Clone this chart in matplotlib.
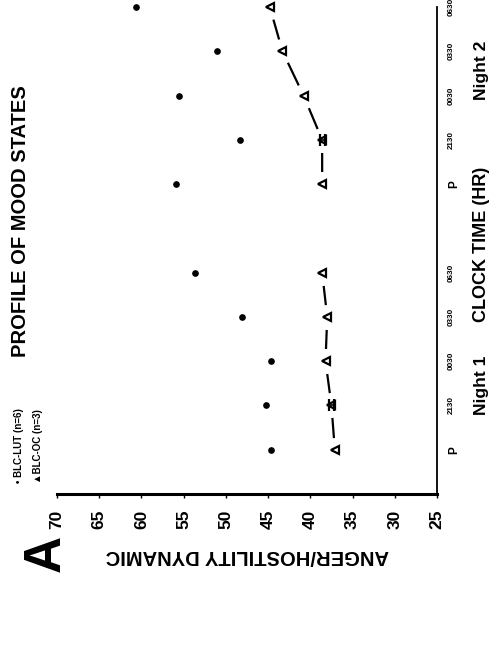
import numpy as np
import matplotlib
matplotlib.use("Agg")
import matplotlib.pyplot as plt

plt.rcParams["font.family"] = ["Liberation Sans", "DejaVu Sans"]
plt.rcParams["font.weight"] = "bold"

# clock times along the (rotated) time axis, empty slot between the two nights
time_labels = ["P", "2130", "0030", "0330", "0630", "",
               "P", "2130", "0030", "0330", "0630"]
# BLC-LUT (n=6) means, dots
lut_vals = [44.6, 45.2, 44.6, 48.1, 53.7, np.nan, 55.9, 48.3, 55.6, 51.0, 60.7]
# BLC-OC (n=3) means, open triangles
oc_vals = [37.1, 37.5, 38.2, 38.0, 38.6, np.nan, 38.6, 38.6, 40.8, 43.3, 44.8]
# small error bars visible on a few OC points
oc_err = [0, 0.3, 0, 0, 0, 0, 0, 0.3, 0, 0, 0]
value_ticks = [70, 65, 60, 55, 50, 45, 40, 35, 30, 25]

t = np.arange(len(time_labels))
lut = np.array(lut_vals)
oc = np.array(oc_vals)
err = np.array(oc_err)

W, H = 490, 655
fig = plt.figure(figsize=(W / 100, H / 100), dpi=100)
ax = fig.add_axes([57 / W, 1 - 494 / H, 380 / W, 487 / H])

# the figure is the scanned chart turned a quarter turn: values run right-to-left,
# time runs upward
ax.plot(lut, t, "o", color="black", markersize=3.8, clip_on=False, zorder=3)
ax.plot(oc, t, "-", color="black", linewidth=1.6, zorder=2)
# white halo so the connecting line stops short of each triangle
ax.plot(oc, t, "o", color="white", markersize=17, clip_on=False, zorder=3)
ax.plot(oc, t, "<", markerfacecolor="white", markeredgecolor="black",
        markeredgewidth=1.6, markersize=6, clip_on=False, zorder=4)
sel = err > 0
ax.errorbar(oc[sel], t[sel], xerr=err[sel], fmt="none", ecolor="black",
            elinewidth=1.2, capsize=4, capthick=1.6, zorder=5)

ax.set_xlim(70, 25)
ax.set_ylim(-1, 10)

ax.spines["top"].set_visible(False)
ax.spines["left"].set_visible(False)
ax.spines["bottom"].set_linewidth(2.2)
ax.spines["right"].set_linewidth(1.3)

ax.set_xticks(value_ticks)
ax.set_xticklabels([str(v) for v in value_ticks], rotation=90,
                   fontsize=12.5, fontweight="bold")
ax.tick_params(axis="x", direction="out", length=3, width=1, pad=8)

ax.yaxis.tick_right()
ax.set_yticks(t)
ax.set_yticklabels(time_labels, rotation=90, fontsize=5.8, fontweight="bold",
                   va="center")
ax.tick_params(axis="y", length=0, pad=8)
for lab in ax.get_yticklabels():
    if lab.get_text() == "P":
        lab.set_fontsize(8.5)

# title and legend text, turned with the chart
fig.text(21 / W, 1 - 221 / H, "PROFILE OF MOOD STATES", rotation=90,
         ha="center", va="center", fontsize=14.5, fontweight="bold")
fig.text(19 / W, 1 - 483 / H, "• BLC-LUT (n=6)", rotation=90,
         ha="center", va="bottom", fontsize=7, fontweight="bold")
fig.text(38 / W, 1 - 483 / H, "▲BLC-OC (n=3)", rotation=90,
         ha="center", va="bottom", fontsize=7, fontweight="bold")

fig.text(46 / W, 1 - 553 / H, "A", rotation=90, ha="center", va="center",
         fontsize=37, fontweight="bold")
fig.text(247 / W, 1 - 555 / H, "ANGER/HOSTILITY DYNAMIC", rotation=180,
         ha="center", va="center", fontsize=14.5, fontweight="bold")

# x-axis label pieces placed along the time axis
fig.text(481 / W, 1 - 385 / H, "Night 1", rotation=90, ha="center",
         va="center", fontsize=12.5, fontweight="bold")
fig.text(481 / W, 1 - 244 / H, "CLOCK TIME (HR)", rotation=90, ha="center",
         va="center", fontsize=13, fontweight="bold")
fig.text(481 / W, 1 - 70 / H, "Night 2", rotation=90, ha="center",
         va="center", fontsize=12.5, fontweight="bold")

fig.savefig("out.png", dpi=100)
